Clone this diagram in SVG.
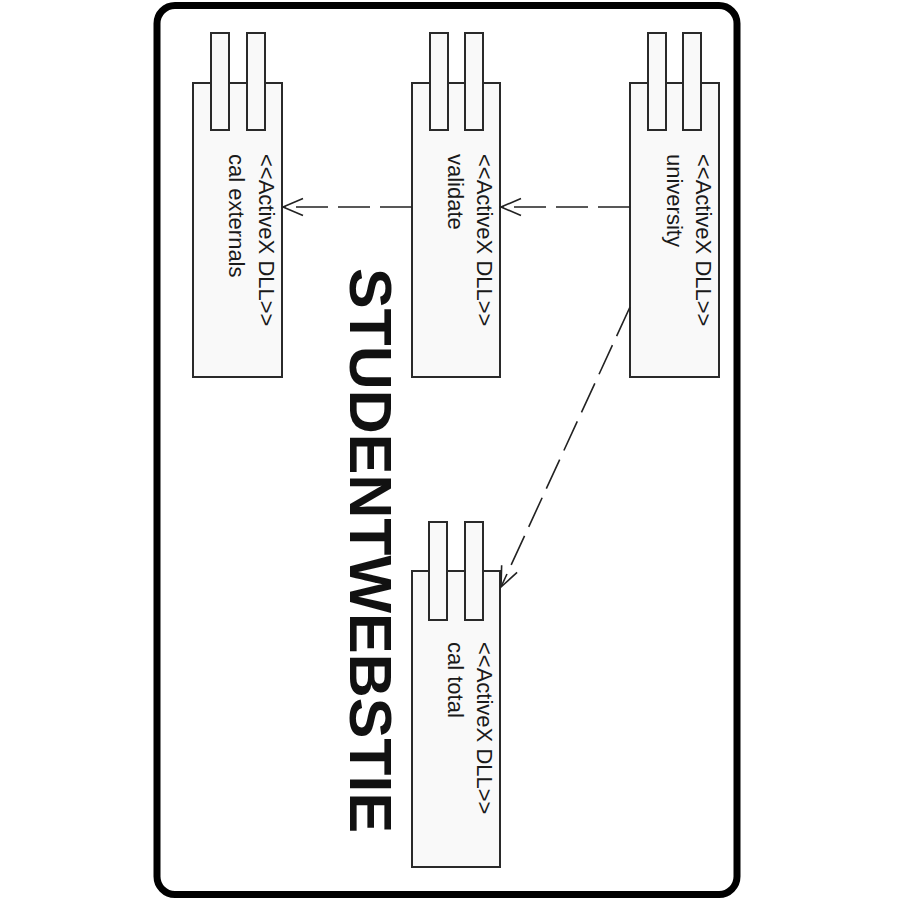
<svg xmlns="http://www.w3.org/2000/svg" width="900" height="900" viewBox="0 0 900 900">
<style>
.frame{fill:#fff;stroke:#000;stroke-width:7}
.box{fill:#f9f9f9;stroke:#2a2a2a;stroke-width:2}
.lbl{font-family:"Liberation Sans",Arial,sans-serif;font-size:22px;fill:#1a1a1a}
.title{font-family:"Liberation Sans",Arial,sans-serif;font-size:60px;font-weight:bold;fill:#111}
.dep{fill:none;stroke:#222;stroke-width:1.6;stroke-dasharray:32 10}
</style>
<defs>
<marker id="open" markerUnits="userSpaceOnUse" viewBox="-22 -11 24 22" markerWidth="24" markerHeight="22" refX="0" refY="0" orient="auto" overflow="visible">
<path d="M-20,-8.5 L0,0 L-20,8.5" fill="none" stroke="#222" stroke-width="1.6"/>
</marker>
</defs>
<rect width="900" height="900" fill="#fff"/>
<rect class="frame" x="157" y="5.5" width="580" height="889" rx="18"/>
<text class="title" transform="translate(350,268) rotate(90)" textLength="565" lengthAdjust="spacingAndGlyphs">STUDENTWEBSTIE</text>
<g id="calexternals">
<rect class="box" x="193" y="83" width="89" height="294"/>
<rect class="box" x="211" y="33" width="18" height="97"/>
<rect class="box" x="247" y="33" width="18" height="97"/>
<text class="lbl" transform="translate(259,154) rotate(90)">&lt;&lt;ActiveX DLL&gt;&gt;</text>
<text class="lbl" transform="translate(229,154) rotate(90)">cal externals</text>
</g>
<g id="validate">
<rect class="box" x="412" y="83" width="88" height="294"/>
<rect class="box" x="430" y="33" width="18" height="97"/>
<rect class="box" x="465" y="33" width="18" height="97"/>
<text class="lbl" transform="translate(477,154) rotate(90)">&lt;&lt;ActiveX DLL&gt;&gt;</text>
<text class="lbl" transform="translate(448,154) rotate(90)">validate</text>
</g>
<g id="university">
<rect class="box" x="630" y="83" width="89" height="294"/>
<rect class="box" x="648" y="33" width="18" height="97"/>
<rect class="box" x="683" y="33" width="18" height="97"/>
<text class="lbl" transform="translate(696,154) rotate(90)">&lt;&lt;ActiveX DLL&gt;&gt;</text>
<text class="lbl" transform="translate(667,154) rotate(90)">university</text>
</g>
<g id="caltotal">
<rect class="box" x="412" y="571" width="88" height="296"/>
<rect class="box" x="429" y="522" width="18" height="98"/>
<rect class="box" x="465" y="522" width="18" height="98"/>
<text class="lbl" transform="translate(477,642) rotate(90)">&lt;&lt;ActiveX DLL&gt;&gt;</text>
<text class="lbl" transform="translate(448,642) rotate(90)">cal total</text>
</g>
<g id="connectors">
<line class="dep" x1="412" y1="207" x2="283" y2="207" marker-end="url(#open)"/>
<line class="dep" x1="630" y1="207" x2="501" y2="207" marker-end="url(#open)"/>
<line class="dep" x1="630" y1="307" x2="501" y2="587" marker-end="url(#open)"/>
</g>
</svg>
